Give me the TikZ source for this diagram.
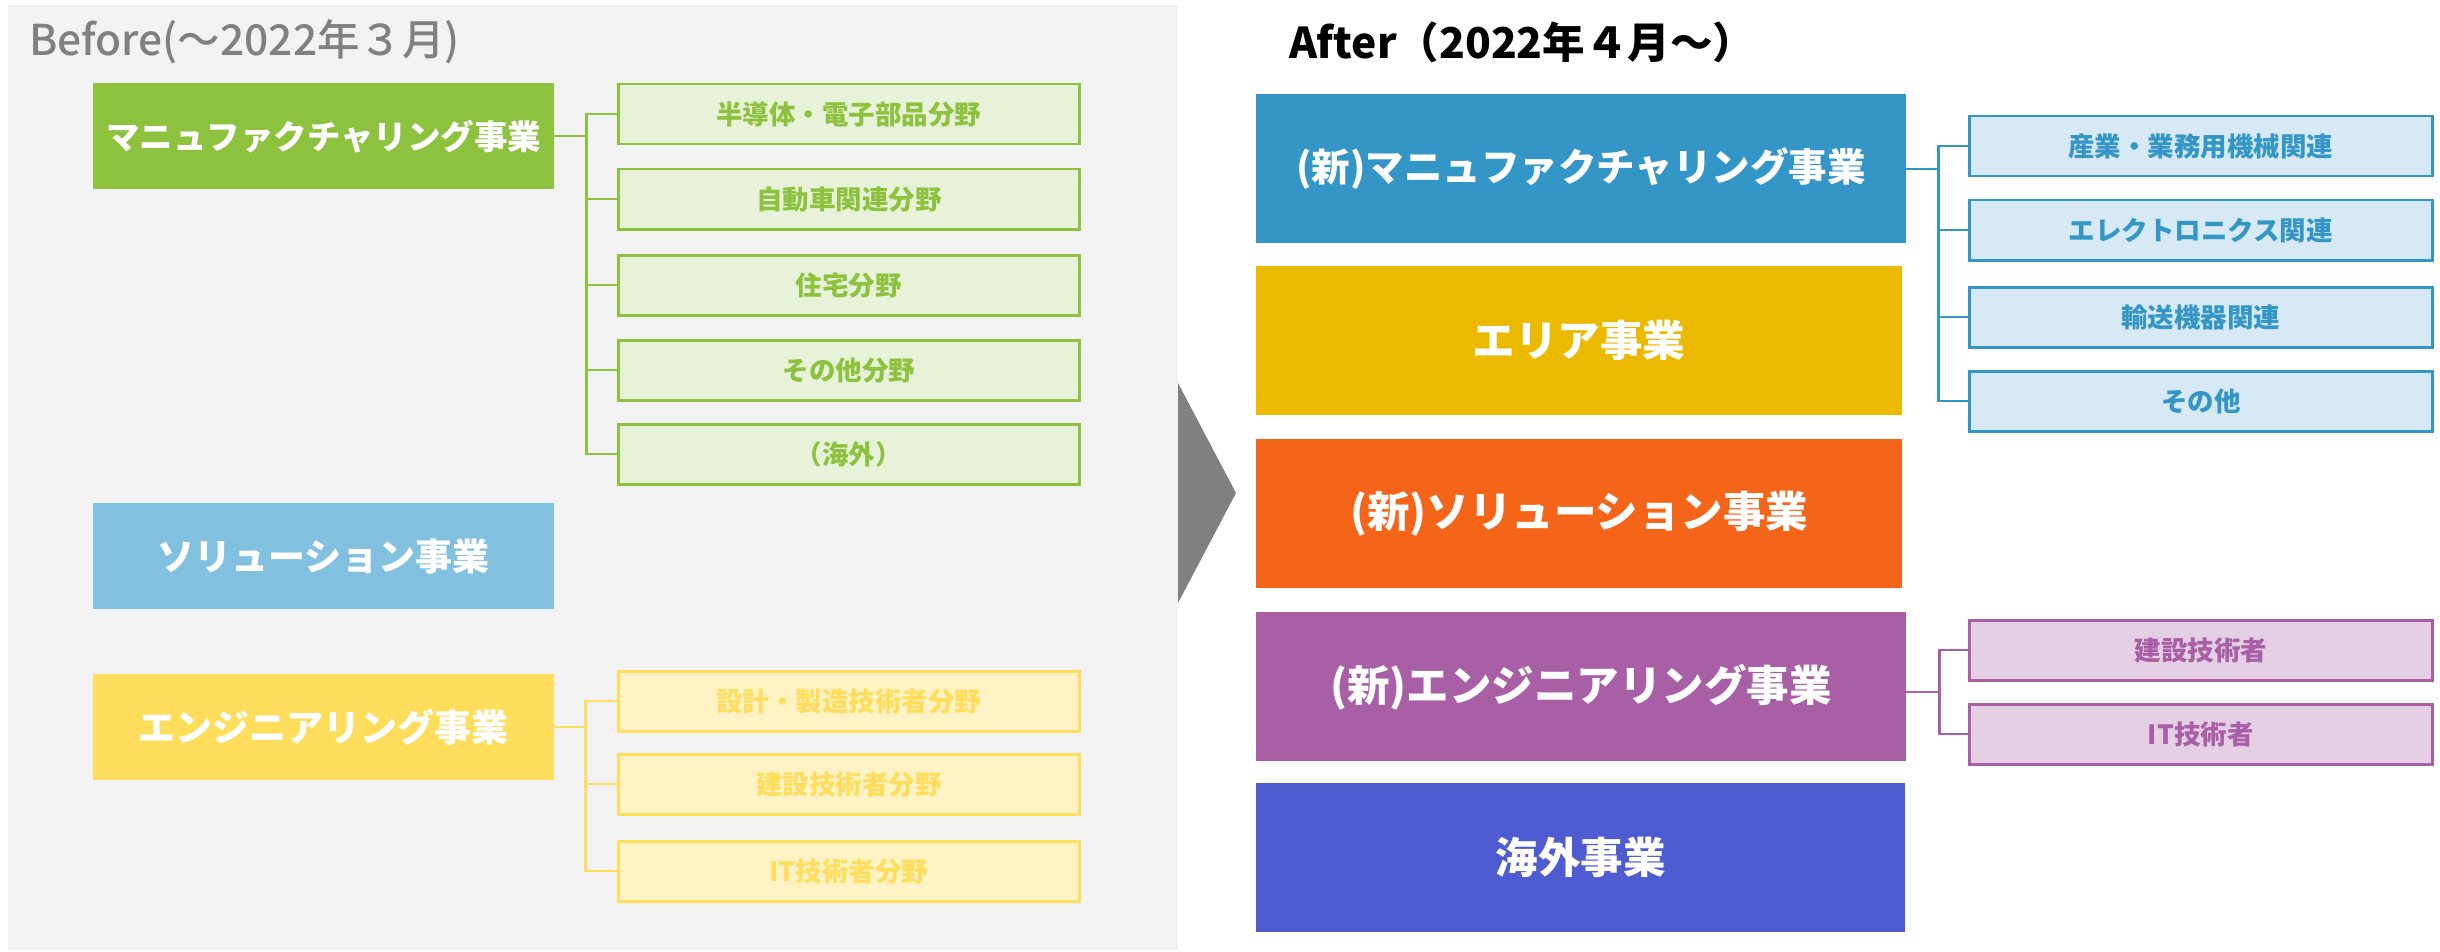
\documentclass[tikz,border=0pt]{standalone}
\usepackage{fontspec}
\setmainfont{Noto Sans CJK JP}
\newfontfamily\jpmed{Noto Sans CJK JP Medium}
\usepackage{tikz}
\usetikzlibrary{positioning,backgrounds}
\definecolor{bggray}{HTML}{F2F2F2}
\definecolor{titlegray}{HTML}{808080}
\definecolor{mfggreen}{HTML}{8DC23F}
\definecolor{mfggreenlt}{HTML}{E8F2D8}
\definecolor{solblue}{HTML}{82C0E0}
\definecolor{engyellow}{HTML}{FFDD5C}
\definecolor{engyellowlt}{HTML}{FFF3C6}
\definecolor{newblue}{HTML}{3396C6}
\definecolor{newbluelt}{HTML}{D6E9F4}
\definecolor{areagold}{HTML}{EBB900}
\definecolor{solorange}{HTML}{F46419}
\definecolor{engpurple}{HTML}{A95FA6}
\definecolor{engpurplelt}{HTML}{E4CFE4}
\definecolor{ovsindigo}{HTML}{4F5BD0}
\tikzset{
  x=1pt,y=-1pt,
  ttl/.style={anchor=west,inner sep=0pt,font=\jpmed\fontsize{42.5}{46}\selectfont},
  bizbox/.style={anchor=north west,inner sep=0pt,text=white},
  bizold/.style={bizbox,minimum width=461pt,minimum height=106pt,
    font=\bfseries\fontsize{37}{40}\selectfont},
  biznew/.style={bizbox,minimum width=650pt,minimum height=149pt,
    font=\bfseries\fontsize{42.5}{46}\selectfont},
  subbox/.style={anchor=north west,draw,line width=2.5pt,minimum height=60pt,
    inner sep=0pt,font=\bfseries\fontsize{26.5}{30}\selectfont},
  subold/.style={subbox,minimum width=461pt},
  subnew/.style={subbox,minimum width=463pt},
  brconn/.style={line width=2.2pt},
}

\begin{document}
\begin{tikzpicture}
  \useasboundingbox (0,0) rectangle (2440,952);
  \fill[white] (0,0) rectangle (2440,952);
  \fill[bggray] (8,5) rectangle (1178,950);
  \fill[titlegray] (1178,383) -- (1236,493) -- (1178,603) -- cycle;

  % before
  \node[ttl,text=titlegray] (before) at (29,42) {Before(～2022年３月)};
  \node[bizold,fill=mfggreen,font=\bfseries\fontsize{33.5}{36}\selectfont] (mfg) at (93,83) {マニュファクチャリング事業};
  \node[bizold,fill=solblue] (sol) at (93,503) {ソリューション事業};
  \node[bizold,fill=engyellow] (eng) at (93,674) {エンジニアリング事業};

  \node[subold,draw=mfggreen,fill=mfggreenlt,text=mfggreen] (mfga) at (617,83) {半導体・電子部品分野};
  \node[subold,draw=mfggreen,fill=mfggreenlt,text=mfggreen] (mfgb) at (617,168) {自動車関連分野};
  \node[subold,draw=mfggreen,fill=mfggreenlt,text=mfggreen] (mfgc) at (617,254) {住宅分野};
  \node[subold,draw=mfggreen,fill=mfggreenlt,text=mfggreen] (mfgd) at (617,339) {その他分野};
  \node[subold,draw=mfggreen,fill=mfggreenlt,text=mfggreen] (mfge) at (617,423) {（海外）};

  \node[subold,draw=engyellow,fill=engyellowlt,text=engyellow] (enga) at (617,670) {設計・製造技術者分野};
  \node[subold,draw=engyellow,fill=engyellowlt,text=engyellow] (engb) at (617,753) {建設技術者分野};
  \node[subold,draw=engyellow,fill=engyellowlt,text=engyellow] (engc) at (617,840) {IT技術者分野};

  \foreach \s in {mfga,mfgb,mfgc,mfgd,mfge}
    \draw[brconn,mfggreen] (mfg.east) -- ++(32,0) |- (\s.west);
  \foreach \s in {enga,engb,engc}
    \draw[brconn,engyellow] (eng.east) -- ++(31,0) |- (\s.west);

  % after
  \node[ttl,text=black,font=\bfseries\fontsize{42.5}{46}\selectfont] (after) at (1289,42) {After（2022年４月～）};
  \node[biznew,fill=newblue,font=\bfseries\fontsize{38.5}{42}\selectfont] (nmfg) at (1256,94) {(新)マニュファクチャリング事業};
  \node[biznew,fill=areagold,minimum width=646pt] (area) at (1256,266) {エリア事業};
  \node[biznew,fill=solorange,minimum width=646pt] (nsol) at (1256,439) {(新)ソリューション事業};
  \node[biznew,fill=engpurple] (neng) at (1256,612) {(新)エンジニアリング事業};
  \node[biznew,fill=ovsindigo,minimum width=649pt] (ovs) at (1256,783) {海外事業};

  \node[subnew,draw=newblue,fill=newbluelt,text=newblue] (nmfga) at (1968,115) {産業・業務用機械関連};
  \node[subnew,draw=newblue,fill=newbluelt,text=newblue] (nmfgb) at (1968,199) {エレクトロニクス関連};
  \node[subnew,draw=newblue,fill=newbluelt,text=newblue] (nmfgc) at (1968,286) {輸送機器関連};
  \node[subnew,draw=newblue,fill=newbluelt,text=newblue] (nmfgd) at (1968,370) {その他};

  \node[subnew,draw=engpurple,fill=engpurplelt,text=engpurple] (nenga) at (1968,619) {建設技術者};
  \node[subnew,draw=engpurple,fill=engpurplelt,text=engpurple] (nengb) at (1968,703) {IT技術者};

  \foreach \s in {nmfga,nmfgb,nmfgc,nmfgd}
    \draw[brconn,newblue] (nmfg.east) -- ++(32,0) |- (\s.west);
  \foreach \s in {nenga,nengb}
    \draw[brconn,engpurple] ([yshift=-5pt]neng.east) -- ++(33,0) |- (\s.west);
\end{tikzpicture}
\end{document}
